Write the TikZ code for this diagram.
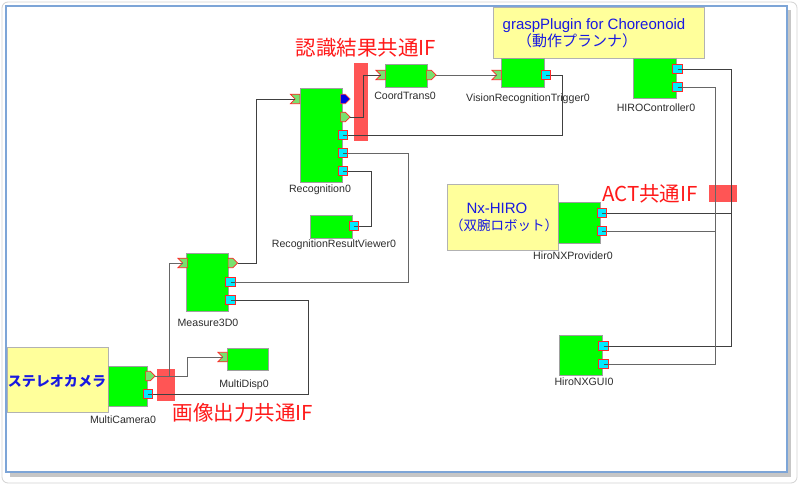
\documentclass[tikz,border=0pt]{standalone}
\usepackage{fontspec}
\setmainfont{Liberation Sans}
\newfontfamily\cjk{Noto Sans CJK JP}
\usetikzlibrary{shapes.symbols}
\definecolor{compgreen}{RGB}{0,255,0}
\definecolor{portgreen}{RGB}{120,225,110}
\definecolor{portcyan}{RGB}{0,235,255}
\definecolor{paleyellow}{RGB}{255,255,155}
\definecolor{barred}{RGB}{255,85,85}
\definecolor{txtblue}{RGB}{25,25,225}
\definecolor{txtred}{RGB}{255,25,25}
\definecolor{frameblue}{RGB}{125,165,215}
\definecolor{lblgray}{RGB}{45,45,45}
\tikzset{
  comp/.style={draw=gray!75, fill=compgreen, inner sep=0, outer sep=0, anchor=north west},
  note/.style={draw=gray!60, fill=paleyellow, inner sep=0, outer sep=0, anchor=north west},
  inport/.style={shape=signal, signal from=west, signal to=nowhere, draw=red!85, fill=portgreen,
    line width=0.7, inner sep=0, outer sep=0, minimum width=9.5, minimum height=9.5},
  outport/.style={shape=signal, signal to=east, signal from=nowhere, draw=red!85, fill=portgreen,
    line width=0.7, inner sep=0, outer sep=0, minimum width=9.5, minimum height=9.5},
  blueport/.style={shape=signal, signal to=east, signal from=nowhere, draw=red!70, fill=blue!90!black,
    line width=0.7, inner sep=0, outer sep=0, minimum width=9.5, minimum height=9.5},
  svcport/.style={shape=rectangle, draw=red!85, fill=portcyan, line width=0.7, inner sep=0, outer sep=0,
    minimum width=9.5, minimum height=9.5,
    path picture={\draw[black!70, line width=0.6] (path picture bounding box.center) -- ++(4.75,0);}},
  lbl/.style={text=lblgray, inner sep=0, font=\fontsize{10.6}{12}\selectfont},
  ifbar/.style={fill=barred, draw=none},
  iflbl/.style={text=txtred, inner sep=0, font=\cjk\fontsize{20.5}{24}\selectfont},
  wire/.style={draw=gray!80!black, line width=0.8},
  wiredark/.style={draw=black!75, line width=0.8},
}
\begin{document}
\begin{tikzpicture}[x=1pt,y=-1pt]
\useasboundingbox (0,0) rectangle (800,486);
% frame
\fill[white] (0,0) rectangle (800,486);
\draw[gray!35, line width=0.8, rounded corners=6] (2,2) rectangle (797,483);
\fill[gray!45] (10,10) rectangle (791,477);
\filldraw[fill=white, draw=frameblue, line width=1.3] (6,6) rectangle (787,472);

% yellow notes
\node[note, minimum width=211, minimum height=51] (gp) at (493,7) {};
\node[text=txtblue, inner sep=0, font=\fontsize{15}{18}\selectfont] (gpt1) at (594,26) {graspPlugin for Choreonoid};
\node[text=txtblue, inner sep=0, font=\cjk\fontsize{15}{18}\selectfont] (gpt2) at (577,41) {（動作プランナ）};
\node[note, minimum width=111, minimum height=66] (nx) at (447,184) {};
\node[text=txtblue, inner sep=0, font=\fontsize{15}{18}\selectfont] (nxt1) at (497,208) {Nx-HIRO};
\node[text=txtblue, inner sep=0, font=\cjk\fontsize{13.5}{16}\selectfont] (nxt2) at (504,225) {（双腕ロボット）};
\node[note, minimum width=101, minimum height=65] (st) at (7,347) {};
\node[text=txtblue, inner sep=0, font=\cjk\bfseries\fontsize{14}{16}\selectfont] (stt) at (57,381) {ステレオカメラ};

% interface bars
\node[ifbar, anchor=north west, minimum width=14, minimum height=78, inner sep=0] (bar1) at (354,63) {};
\node[ifbar, anchor=north west, minimum width=18, minimum height=32, inner sep=0] (bar2) at (157,369) {};
\node[ifbar, anchor=north west, minimum width=28, minimum height=17, inner sep=0] (bar3) at (709,185) {};
\node[iflbl] (if1) at (366,47.5) {認識結果共通IF};
\node[iflbl] (if2) at (243,412.5) {画像出力共通IF};
\node[iflbl] (if3) at (650,194) {ACT共通IF};

% components
\node[comp, minimum width=42, minimum height=94] (rec) at (300,88) {};
\node[lbl] (recl) at (320,190) {Recognition0};
\node[comp, minimum width=42, minimum height=23] (rrv) at (310,215) {};
\node[lbl] (rrvl) at (334,245) {RecognitionResultViewer0};
\node[comp, minimum width=42, minimum height=23] (ct) at (385,64) {};
\node[lbl] (ctl) at (405,96) {CoordTrans0};
\node[comp, minimum width=43, minimum height=29] (vrt) at (501,58) {};
\node[lbl] (vrtl) at (528,99) {VisionRecognitionTrigger0};
\node[comp, minimum width=43, minimum height=40] (hc) at (633,58) {};
\node[lbl] (hcl) at (656,108) {HIROController0};
\node[comp, minimum width=42, minimum height=41] (hnp) at (558,202) {};
\node[lbl] (hnpl) at (573,256) {HiroNXProvider0};
\node[comp, minimum width=43, minimum height=40] (gui) at (559,335) {};
\node[lbl] (guil) at (584,382) {HiroNXGUI0};
\node[comp, minimum width=42, minimum height=58] (m3) at (186,253) {};
\node[lbl] (m3l) at (208,323) {Measure3D0};
\node[comp, minimum width=41, minimum height=22] (md) at (227,348) {};
\node[lbl] (mdl) at (244,385) {MultiDisp0};
\node[comp, minimum width=39, minimum height=40] (mc) at (108,366) {};
\node[lbl] (mcl) at (123,420) {MultiCamera0};

% ports
\node[inport] (rec-i) at (297.5,99) {};
\node[blueport] (rec-b) at (343,99) {};
\node[outport] (rec-o) at (343,117) {};
\node[svcport] (rec-s1) at (343,135) {};
\node[svcport] (rec-s2) at (343,153) {};
\node[svcport] (rec-s3) at (343,171) {};
\node[svcport] (rrv-s) at (354,226) {};
\node[inport] (ct-i) at (383,75) {};
\node[outport] (ct-o) at (429,75) {};
\node[inport] (vrt-i) at (499,75) {};
\node[svcport] (vrt-s) at (546,75) {};
\node[svcport] (hc-s1) at (677.5,69) {};
\node[svcport] (hc-s2) at (677.5,87) {};
\node[svcport] (hnp-s1) at (602,213) {};
\node[svcport] (hnp-s2) at (602,231) {};
\node[svcport] (gui-s1) at (603.5,346) {};
\node[svcport] (gui-s2) at (603.5,364) {};
\node[inport] (m3-i) at (185,263) {};
\node[outport] (m3-o) at (230.5,263) {};
\node[svcport] (m3-s1) at (230.5,282) {};
\node[svcport] (m3-s2) at (230.5,300) {};
\node[inport] (md-i) at (225,357) {};
\node[outport] (mc-o) at (148,376) {};
\node[svcport] (mc-s) at (148,394) {};

% junction coordinates
\coordinate (j1) at (731,0);
\coordinate (j2) at (715,0);

% connectors
\draw[wiredark] (rec-o.east) -- ++(13,0) |- (ct-i.west);
\draw[wire] (ct-o.east) -- (vrt-i.west);
\draw[wiredark] (vrt-s.east) -- ++(12,0) |- (rec-s1.east);
\draw[wire] (rec-s2.east) -- ++(61,0) |- (m3-s1.east);
\draw[wiredark] (rec-s3.east) -- ++(24,0) |- (rrv-s.east);
\draw[wiredark] (m3-o.east) -- ++(19,0) |- (rec-i.west);
\draw[wire] (mc-o.east) -- ++(14,0) |- (m3-i.west);
\draw[wire] (mc-o.east) -- ++(32,0) |- (md-i.west);
\draw[wiredark] (mc-s.east) -- ++(156,0) |- (m3-s2.east);
\draw[wiredark] (hc-s1.east) -- (hc-s1.east -| j1) -- (gui-s1.east -| j1) -- (gui-s1.east);
\draw[wiredark] (hnp-s1.east) -- (hnp-s1.east -| j1);
\draw[wire] (hc-s2.east) -- (hc-s2.east -| j2) -- (gui-s2.east -| j2) -- (gui-s2.east);
\draw[wire] (hnp-s2.east) -- (hnp-s2.east -| j2);
\end{tikzpicture}
\end{document}
